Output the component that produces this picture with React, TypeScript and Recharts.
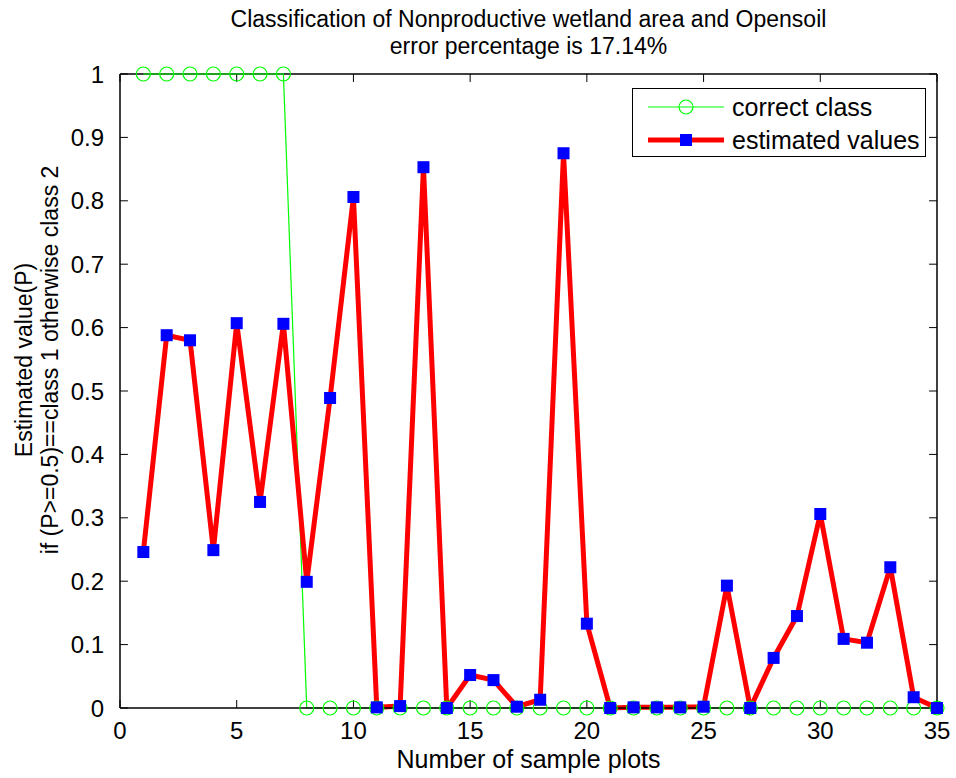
/**
 * Classification result chart: correct class vs estimated values
 */

import { LineChart, Line, XAxis, YAxis, ReferenceLine } from 'recharts';

const samplePlots = [
  1, 2, 3, 4, 5, 6, 7, 8, 9, 10, 11, 12, 13, 14, 15, 16, 17, 18, 19, 20, 21, 22, 23, 24, 25, 26, 27,
  28, 29, 30, 31, 32, 33, 34, 35,
];

const correctClass = [
  1, 1, 1, 1, 1, 1, 1, 0, 0, 0, 0, 0, 0, 0, 0, 0, 0, 0, 0, 0, 0, 0, 0, 0, 0, 0, 0, 0, 0, 0, 0, 0, 0,
  0, 0,
];

const estimatedValues = [
  0.246, 0.588, 0.58, 0.249, 0.607, 0.325, 0.606, 0.199, 0.489, 0.806, 0.001, 0.003, 0.853, 0.0,
  0.052, 0.044, 0.002, 0.013, 0.875, 0.133, 0.0, 0.001, 0.001, 0.001, 0.002, 0.193, 0.0, 0.079,
  0.145, 0.306, 0.109, 0.103, 0.222, 0.017, 0.0,
];

const xTicks = [0, 5, 10, 15, 20, 25, 30, 35];
const yTicks = [0, 0.1, 0.2, 0.3, 0.4, 0.5, 0.6, 0.7, 0.8, 0.9, 1];

const titleLines = [
  'Classification of Nonproductive wetland area and Opensoil',
  'error percentage is 17.14%',
];

const FONT = '"Liberation Sans", Arial, Helvetica, sans-serif';

// inward tick length, in data units (about 8px)
const X_TICK_LEN = 0.0126;
const Y_TICK_LEN = 0.34;

const data = samplePlots.map((plot, i) => ({
  plot,
  correct: correctClass[i],
  estimated: estimatedValues[i],
}));

function SquareDot(props: any) {
  const { cx, cy } = props;
  if (cx == null || cy == null) return null;
  return <rect x={cx - 6} y={cy - 6} width={12} height={12} fill="#0000ff" />;
}

function YLabel() {
  const cy = 360;
  return (
    <g fontFamily={FONT} fontSize={23} fill="#000">
      <text x={24} y={cy} textAnchor="middle" dominantBaseline="central" transform={`rotate(-90, 24, ${cy})`}>
        Estimated value(P)
      </text>
      <text x={50} y={cy} textAnchor="middle" dominantBaseline="central" transform={`rotate(-90, 50, ${cy})`}>
        {'if (P>=0.5)==class 1 otherwise class 2'}
      </text>
    </g>
  );
}

function LegendBox() {
  return (
    <div
      style={{
        position: 'absolute',
        left: 632,
        top: 88,
        width: 294,
        height: 69,
        border: '1px solid #000',
        background: '#fff',
        boxSizing: 'border-box',
      }}
    >
      <svg width={292} height={67} style={{ position: 'absolute', left: 0, top: 0 }}>
        <line x1={15} x2={91} y1={18} y2={18} stroke="#00ff00" strokeWidth={1.2} />
        <circle cx={53} cy={18} r={7} fill="none" stroke="#00ff00" strokeWidth={1.2} />
        <line x1={15} x2={91} y1={51} y2={51} stroke="#ff0000" strokeWidth={5} />
        <rect x={47} y={45} width={12} height={12} fill="#0000ff" />
        <text x={99} y={18} dominantBaseline="central" fontFamily={FONT} fontSize={25}>
          correct class
        </text>
        <text x={99} y={51} dominantBaseline="central" fontFamily={FONT} fontSize={25}>
          estimated values
        </text>
      </svg>
    </div>
  );
}

export default function App() {
  const tickStyle = { fontFamily: FONT, fontSize: 24, fill: '#000' };

  return (
    <div style={{ position: 'absolute', left: 0, top: 0, width: 956, height: 778, background: '#fff' }}>
      <div
        style={{
          position: 'absolute',
          left: 120,
          width: 817,
          top: 6,
          textAlign: 'center',
          fontFamily: FONT,
          fontSize: 23,
          lineHeight: '27px',
          color: '#000',
        }}
      >
        {titleLines.map((t) => (
          <div key={t}>{t}</div>
        ))}
      </div>

      <LineChart width={956} height={778} data={data} margin={{ top: 74, right: 19, bottom: 10, left: 60 }}>
        <XAxis
          dataKey="plot"
          type="number"
          domain={[0, 35]}
          ticks={xTicks}
          height={60}
          tickLine={false}
          axisLine={{ stroke: '#000', strokeWidth: 1.5 }}
          tick={tickStyle}
          tickMargin={8}
          label={{
            value: 'Number of sample plots',
            position: 'insideBottom',
            offset: 0,
            style: { fontFamily: FONT, fontSize: 25, fill: '#000' },
          }}
        />
        <YAxis
          type="number"
          domain={[0, 1]}
          ticks={yTicks}
          width={60}
          tickLine={false}
          axisLine={{ stroke: '#000', strokeWidth: 1.5 }}
          tick={tickStyle}
          tickMargin={10}
          interval={0}
          label={<YLabel />}
        />

        {/* box: top and right edges */}
        <ReferenceLine y={1} stroke="#000" strokeWidth={1.5} />
        <ReferenceLine x={35} stroke="#000" strokeWidth={1.5} />

        {/* inward ticks, MATLAB style */}
        {xTicks.map((t) => (
          <ReferenceLine
            key={`xb${t}`}
            segment={[{ x: t, y: 0 }, { x: t, y: X_TICK_LEN }]}
            stroke="#000"
            strokeWidth={1}
          />
        ))}
        {xTicks.map((t) => (
          <ReferenceLine
            key={`xt${t}`}
            segment={[{ x: t, y: 1 }, { x: t, y: 1 - X_TICK_LEN }]}
            stroke="#000"
            strokeWidth={1}
          />
        ))}
        {yTicks.map((t) => (
          <ReferenceLine
            key={`yl${t}`}
            segment={[{ x: 0, y: t }, { x: Y_TICK_LEN, y: t }]}
            stroke="#000"
            strokeWidth={1}
          />
        ))}
        {yTicks.map((t) => (
          <ReferenceLine
            key={`yr${t}`}
            segment={[{ x: 35, y: t }, { x: 35 - Y_TICK_LEN, y: t }]}
            stroke="#000"
            strokeWidth={1}
          />
        ))}

        <Line
          type="linear"
          dataKey="correct"
          stroke="#00ff00"
          strokeWidth={1.2}
          dot={{ r: 7, fill: 'none', stroke: '#00ff00', strokeWidth: 1.2 }}
          isAnimationActive={false}
        />
        <Line
          type="linear"
          dataKey="estimated"
          stroke="#ff0000"
          strokeWidth={5}
          dot={<SquareDot />}
          isAnimationActive={false}
        />
      </LineChart>

      <LegendBox />
    </div>
  );
}
